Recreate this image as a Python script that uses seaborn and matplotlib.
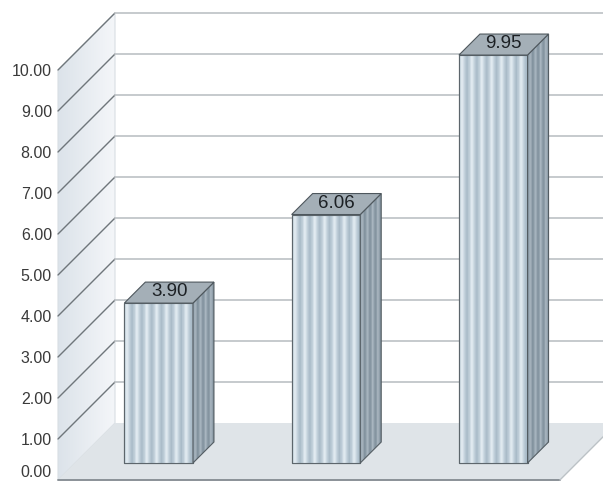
import numpy as np
import pandas as pd
import matplotlib
matplotlib.use("Agg")
import matplotlib.pyplot as plt
from matplotlib.patches import Polygon
from matplotlib.colors import LinearSegmentedColormap
import seaborn as sns

categories = ["A", "B", "C"]
values = [3.90, 6.06, 9.95]
value_labels = ["3.90", "6.06", "9.95"]
ytick_values = [0, 1, 2, 3, 4, 5, 6, 7, 8, 9, 10]
ytick_labels = ["0.00", "1.00", "2.00", "3.00", "4.00", "5.00",
                "6.00", "7.00", "8.00", "9.00", "10.00"]

sns.set_style("white")
plt.rcParams["font.family"] = ["Liberation Sans", "DejaVu Sans"]

W, H = 603, 482
fig = plt.figure(figsize=(W / 100, H / 100), dpi=100)
ax = fig.add_axes([0, 0, 1, 1])

# front plane in pixels: category -0.5 at x=58, 167.3 px per category,
# value 0 two px above the bottom, 41 px per unit
front_left_px = 58
cat_px = 167.3
unit_px = 41.0
zero_px = 2
xlim = (-0.5 - front_left_px / cat_px, -0.5 + (W - front_left_px) / cat_px)
ylim = (-zero_px / unit_px, (H - zero_px) / unit_px)


def off(d):
    # depth of d pixels along the 45 degree receding axis, in data units
    return d / cat_px, d / unit_px


df = pd.DataFrame({"category": categories, "value": values})
sns.barplot(data=df, x="category", y="value", ax=ax, width=0.41,
            color="#bac9d4", edgecolor="#5d666c", linewidth=0.8,
            saturation=1, zorder=2)
bars = list(ax.patches)

n = len(categories)
Dx, Dy = off(57)
ymax = ytick_values[-1]

# left wall with a soft gradient
wall = Polygon([(-0.5, 0), (-0.5, ymax), (-0.5 + Dx, ymax + Dy), (-0.5 + Dx, Dy)],
               closed=True, facecolor="none", edgecolor="#d8dee3", lw=0.8, zorder=0.6)
ax.add_patch(wall)
wall_cmap = LinearSegmentedColormap.from_list("wall", ["#dce3ea", "#f4f6f9"])
im = ax.imshow(np.linspace(0, 1, 50).reshape(1, -1), cmap=wall_cmap, aspect="auto",
               extent=[-0.5, -0.5 + Dx, 0, ymax + Dy], zorder=0.5, interpolation="bilinear")
im.set_clip_path(wall)

# gridlines on the left wall and the back wall
for y in ytick_values[1:]:
    ax.plot([-0.5, -0.5 + Dx], [y, y + Dy], color="#6f767b", lw=1.0, zorder=0.8)
    ax.plot([-0.5 + Dx, xlim[1]], [y + Dy, y + Dy], color="#c2c6c9", lw=1.3, zorder=0.8)

# floor
floor = Polygon([(-0.5, 0), (n - 0.5, 0), (n - 0.5 + Dx, Dy), (-0.5 + Dx, Dy)],
                closed=True, facecolor="#dfe4e8", edgecolor="none", zorder=0.9)
ax.add_patch(floor)
ax.plot([-0.5, n - 0.5], [0, 0], color="#8a9197", lw=1.4, zorder=0.95)
ax.plot([n - 0.5, n - 0.5 + Dx], [0, Dy], color="#bcc2c6", lw=1.0, zorder=0.95)

# 3d bars: front face from seaborn, pushed back, plus side and top faces
front_cmap = LinearSegmentedColormap.from_list("front", ["#a9bbc8", "#c6d4de", "#e2ebf1"])
side_cmap = LinearSegmentedColormap.from_list("side", ["#82929e", "#a9b6c0"])
stripe = np.tile([0.35, 0.7, 1.0, 0.9, 0.6, 0.35, 0.15, 0.0, 0.25], 7).reshape(1, -1)
side_stripe = np.tile([0.2, 0.8, 0.5, 0.0], 4).reshape(1, -1)
ox, oy = off(17)
bx, by = off(21)
for p, lab in zip(bars, value_labels):
    p.set_x(p.get_x() + ox)
    p.set_y(p.get_y() + oy)
    x0 = p.get_x()
    x1 = x0 + p.get_width()
    y0 = p.get_y()
    y1 = y0 + p.get_height()

    s = ax.imshow(stripe, cmap=front_cmap, aspect="auto", extent=[x0, x1, y0, y1],
                  zorder=2.05, interpolation="bilinear")
    s.set_clip_path(p)
    edge = plt.Rectangle((x0, y0), x1 - x0, y1 - y0, facecolor="none",
                         edgecolor="#5d666c", lw=0.8, zorder=2.1)
    ax.add_patch(edge)

    side = Polygon([(x1, y0), (x1 + bx, y0 + by), (x1 + bx, y1 + by), (x1, y1)],
                   closed=True, facecolor="none", edgecolor="#545d63", lw=0.8, zorder=2.2)
    ax.add_patch(side)
    ss = ax.imshow(side_stripe, cmap=side_cmap, aspect="auto",
                   extent=[x1, x1 + bx, y0, y1 + by], zorder=2.15, interpolation="bilinear")
    ss.set_clip_path(side)

    top = Polygon([(x0, y1), (x1, y1), (x1 + bx, y1 + by), (x0 + bx, y1 + by)],
                  closed=True, facecolor="#a4afb7", edgecolor="#4e575d", lw=0.8, zorder=2.3)
    ax.add_patch(top)
    ax.text((x0 + x1 + bx) / 2, y1 + by / 2 + 0.02, lab, ha="center", va="center",
            fontsize=13.5, color="#1c2024", zorder=3)

ax.set_xlim(*xlim)
ax.set_ylim(*ylim)
ax.set_yticks(ytick_values)
ax.set_yticklabels(ytick_labels)
ax.tick_params(axis="y", length=0, pad=-37.4, labelsize=11.5, labelcolor="#3a3a3a")
# keep the bottom label inside the picture
ax.get_yticklabels()[0].set_va("bottom")
ax.set_xticks([])
ax.set_xlabel("")
ax.set_ylabel("")
for sp in ax.spines.values():
    sp.set_visible(False)
ax.set_facecolor("white")

fig.savefig("out.png", dpi=100)
